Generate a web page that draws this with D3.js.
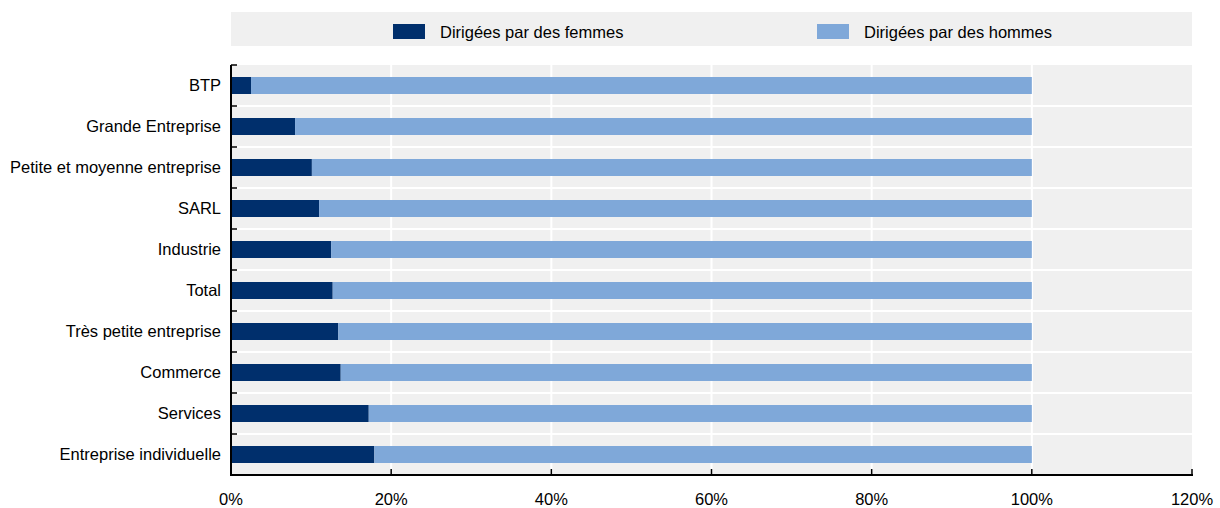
<!DOCTYPE html>
<html><head><meta charset="utf-8">
<script src="https://cdn.jsdelivr.net/npm/d3@7"></script>
<style>
body{margin:0;background:#fff;}
svg text{font-family:"Liberation Sans",Arial,sans-serif;fill:#000;}
</style></head>
<body><svg id="c" width="1220" height="508"></svg>
<script>
const categories = ["BTP","Grande Entreprise","Petite et moyenne entreprise","SARL","Industrie","Total","Très petite entreprise","Commerce","Services","Entreprise individuelle"];
const femmes = [2.5, 8.0, 10.1, 11.0, 12.5, 12.7, 13.4, 13.7, 17.2, 17.9];
const hommes = [97.5, 92.0, 89.9, 89.0, 87.5, 87.3, 86.6, 86.3, 82.8, 82.1];
const seriesNames = ["Dirigées par des femmes","Dirigées par des hommes"];
const colors = ["#002F6C","#7FA8D9"];
const xTicks = [0,20,40,60,80,100,120];

const svg = d3.select("#c");
const mL = 231, mR = 1192, mT = 65, mB = 475;
const fs = 16.5;
const x = d3.scaleLinear().domain([0,120]).range([mL,mR]);
const y = d3.scaleBand().domain(categories).range([mT,mB]).paddingInner(0).paddingOuter(0);
const bg = "#f0f0f0";

// legend
svg.append("rect").attr("x",mL).attr("y",12).attr("width",mR-mL).attr("height",34).attr("fill",bg);
const legX = [393, 817];
seriesNames.forEach((n,i)=>{
  svg.append("rect").attr("x",legX[i]).attr("y",24).attr("width",32).attr("height",15).attr("fill",colors[i]);
  svg.append("text").attr("x",legX[i]+47).attr("y",38).attr("font-size",fs).text(n);
});

// plot bg
svg.append("rect").attr("x",mL).attr("y",mT).attr("width",mR-mL).attr("height",mB-mT).attr("fill",bg);
// vertical gridlines
svg.selectAll("line.vg").data(xTicks.slice(1,-1)).enter().append("line")
  .attr("x1",d=>x(d)).attr("x2",d=>x(d)).attr("y1",mT).attr("y2",mB)
  .attr("stroke","#fff").attr("stroke-width",2);
// horizontal separators
const bounds = categories.slice(1).map(c=>y(c));
svg.selectAll("line.hg").data(bounds).enter().append("line")
  .attr("x1",mL).attr("x2",mR).attr("y1",d=>d).attr("y2",d=>d)
  .attr("stroke","#fff").attr("stroke-width",2);

// bars
const bh = 17;
const g = svg.append("g");
categories.forEach((c,i)=>{
  const yc = y(c)+y.bandwidth()/2;
  g.append("rect").attr("x",x(0)).attr("y",yc-bh/2).attr("width",x(femmes[i])-x(0)).attr("height",bh).attr("fill",colors[0]);
  g.append("rect").attr("x",x(femmes[i])).attr("y",yc-bh/2).attr("width",x(femmes[i]+hommes[i])-x(femmes[i])).attr("height",bh).attr("fill",colors[1]);
});

// y axis
const ya = svg.append("g").attr("transform",`translate(${mL},0)`);
ya.append("line").attr("x1",0).attr("x2",0).attr("y1",mT).attr("y2",mB).attr("stroke","#000").attr("stroke-width",2);
const yb = [mT, ...bounds, mB];
ya.selectAll("line.t").data(yb).enter().append("line")
  .attr("x1",0).attr("x2",6).attr("y1",d=>d).attr("y2",d=>d).attr("stroke","#000").attr("stroke-width",1.5);
ya.selectAll("text").data(categories).enter().append("text")
  .attr("x",-10).attr("y",d=>y(d)+y.bandwidth()/2).attr("dy","0.35em")
  .attr("text-anchor","end").attr("font-size",fs).text(d=>d);

// x axis
const xa = svg.append("g");
xa.append("line").attr("x1",mL-1).attr("x2",mR+1).attr("y1",mB).attr("y2",mB).attr("stroke","#000").attr("stroke-width",2);
xa.selectAll("line.t").data(xTicks).enter().append("line")
  .attr("x1",d=>x(d)).attr("x2",d=>x(d)).attr("y1",mB).attr("y2",mB-6).attr("stroke","#000").attr("stroke-width",1.5);
xa.selectAll("text").data(xTicks).enter().append("text")
  .attr("x",d=>x(d)).attr("y",505).attr("text-anchor","middle").attr("font-size",fs).text(d=>d+"%");
</script></body></html>
